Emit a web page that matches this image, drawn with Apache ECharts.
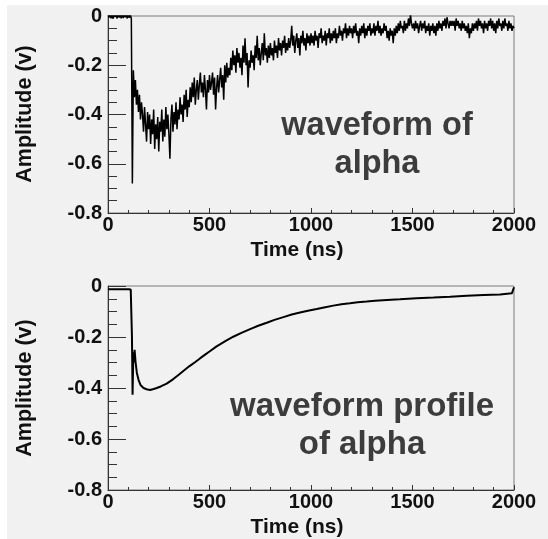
<!DOCTYPE html>
<html>
<head>
<meta charset="utf-8">
<script src="https://cdn.jsdelivr.net/npm/echarts@6/dist/echarts.min.js"></script>
<style>
  html, body { margin: 0; padding: 0; background: #ffffff; }
  #wrap { position: relative; width: 548px; height: 539px; overflow: hidden; }
  #panel { position: absolute; left: 7px; top: 5px; right: 0; bottom: 0; background: #f1f1f1; }
  #chart { position: absolute; left: 0; top: 0; width: 548px; height: 539px; }
</style>
</head>
<body>
<div id="wrap"><div id="panel"></div><div id="chart"></div></div>
<script>
// Single alpha-particle waveform, one sample every 5 ns from 0 to 2000 ns (volts)
const waveStepNs = 5;
const waveAmp = [
  // 0 - 95 ns
  0.008, -0.006, 0.010, -0.009, 0.004, -0.011, 0.009, -0.004, 0.007, -0.010, 0.011, -0.006, 0.003, -0.009, 0.008, -0.008, 0.010, -0.005, 0.006, -0.010,
  // 100 - 195 ns
  0.009, -0.007, 0.006, -0.011, -0.68, -0.22, -0.33, -0.26, -0.36, -0.30, -0.39, -0.32, -0.42, -0.35, -0.40, -0.47, -0.37, -0.44, -0.51, -0.39,
  // 200 - 295 ns
  -0.46, -0.40, -0.52, -0.42, -0.48, -0.38, -0.54, -0.44, -0.50, -0.41, -0.55, -0.43, -0.47, -0.38, -0.51, -0.42, -0.49, -0.37, -0.46, -0.40,
  // 300 - 395 ns
  -0.48, -0.58, -0.42, -0.36, -0.47, -0.39, -0.44, -0.35, -0.46, -0.38, -0.42, -0.33, -0.40, -0.36, -0.43, -0.32, -0.38, -0.30, -0.41, -0.34,
  // 400 - 495 ns
  -0.37, -0.29, -0.35, -0.27, -0.33, -0.25, -0.36, -0.30, -0.26, -0.34, -0.28, -0.23, -0.31, -0.27, -0.33, -0.24, -0.30, -0.38, -0.26, -0.31,
  // 500 - 595 ns
  -0.24, -0.30, -0.27, -0.23, -0.32, -0.25, -0.38, -0.29, -0.24, -0.31, -0.26, -0.21, -0.29, -0.24, -0.34, -0.20, -0.27, -0.19, -0.25, -0.21,
  // 600 - 695 ns
  -0.24, -0.17, -0.22, -0.14, -0.20, -0.16, -0.23, -0.13, -0.19, -0.15, -0.21, -0.17, -0.24, -0.12, -0.19, -0.09, -0.20, -0.15, -0.29, -0.18,
  // 700 - 795 ns
  -0.21, -0.14, -0.19, -0.16, -0.22, -0.12, -0.17, -0.08, -0.18, -0.13, -0.20, -0.15, -0.11, -0.18, -0.07, -0.16, -0.13, -0.19, -0.12, -0.17,
  // 800 - 895 ns
  -0.11, -0.16, -0.13, -0.18, -0.10, -0.15, -0.12, -0.17, -0.09, -0.14, -0.11, -0.16, -0.10, -0.13, -0.08, -0.15, -0.11, -0.14, -0.09, -0.13,
  // 900 - 995 ns
  -0.10, -0.04, -0.12, -0.08, -0.15, -0.10, -0.07, -0.13, -0.09, -0.16, -0.08, -0.11, -0.06, -0.12, -0.09, -0.14, -0.07, -0.11, -0.08, -0.12,
  // 1000 - 1095 ns
  -0.07, -0.11, -0.08, -0.12, -0.06, -0.10, -0.08, -0.13, -0.07, -0.09, -0.05, -0.11, -0.08, -0.10, -0.06, -0.12, -0.07, -0.09, -0.05, -0.11,
  // 1100 - 1195 ns
  -0.07, -0.10, -0.06, -0.09, -0.05, -0.11, -0.07, -0.09, -0.04, -0.08, -0.06, -0.10, -0.05, -0.07, -0.03, -0.09, -0.05, -0.08, -0.04, -0.07,
  // 1200 - 1295 ns
  -0.05, -0.09, -0.04, -0.07, -0.03, -0.08, -0.06, -0.11, -0.05, -0.08, -0.04, -0.07, -0.03, -0.09, -0.05, -0.08, -0.04, -0.06, -0.03, -0.08,
  // 1300 - 1395 ns
  -0.05, -0.07, -0.03, -0.08, -0.04, -0.06, -0.02, -0.07, -0.04, -0.08, -0.05, -0.07, -0.03, -0.06, -0.04, -0.09, -0.06, -0.10, -0.05, -0.08,
  // 1400 - 1495 ns
  -0.06, -0.11, -0.05, -0.08, -0.04, -0.07, -0.03, -0.06, -0.02, -0.05, -0.04, -0.07, -0.02, -0.06, -0.03, -0.05, -0.01, -0.04, 0.005, -0.03,
  // 1500 - 1595 ns
  -0.05, -0.03, -0.06, -0.02, -0.05, -0.03, -0.07, -0.04, -0.02, -0.06, -0.03, -0.05, -0.02, -0.07, -0.04, -0.06, -0.03, -0.08, -0.04, -0.06,
  // 1600 - 1695 ns
  -0.03, -0.07, -0.04, -0.08, -0.03, -0.06, -0.02, -0.05, -0.03, -0.06, -0.02, -0.04, -0.01, -0.05, -0.005, -0.03, -0.05, -0.02, -0.04, -0.02,
  // 1700 - 1795 ns
  -0.04, -0.02, -0.06, -0.01, -0.04, -0.02, -0.05, -0.03, -0.06, -0.02, -0.05, -0.03, -0.06, -0.04, -0.07, -0.03, -0.09, -0.05, -0.07, -0.03,
  // 1800 - 1895 ns
  -0.06, -0.03, -0.05, -0.02, -0.06, -0.01, -0.04, -0.02, -0.05, -0.03, -0.07, -0.02, -0.05, -0.03, -0.06, -0.02, -0.04, -0.01, -0.05, -0.02,
  // 1900 - 1995 ns
  -0.06, -0.03, -0.07, -0.02, -0.05, -0.01, -0.04, -0.03, -0.06, -0.02, -0.05, -0.01, -0.04, -0.03, -0.06, -0.02, -0.05, -0.03, -0.06, -0.04,
  // 2000 ns
  -0.05
];

// Averaged waveform profile (ns, volts)
const profileTime = [
  0, 100, 112, 118, 121, 125, 128, 131, 136, 142, 150, 160, 175, 190, 207,
  225, 240, 260, 289, 320, 350, 371, 400, 430, 453, 480, 500, 535, 580, 617,
  660, 700, 740, 782, 820, 864, 905, 946, 985, 1028, 1070, 1110, 1150, 1192, 1230,
  1274, 1315, 1355, 1395, 1438, 1520, 1603, 1685, 1768, 1850, 1931, 1990, 2000
];
const profileAmp = [
  -0.013, -0.013, -0.014, -0.20, -0.426, -0.26, -0.30, -0.25, -0.30, -0.34, -0.367, -0.388, -0.40, -0.405, -0.408,
  -0.404, -0.400, -0.394, -0.383, -0.366, -0.347, -0.333, -0.315, -0.298, -0.284, -0.268, -0.257, -0.237, -0.215, -0.199,
  -0.183, -0.169, -0.156, -0.144, -0.133, -0.122, -0.112, -0.104, -0.097, -0.090, -0.083, -0.077, -0.072, -0.068, -0.064,
  -0.061, -0.058, -0.056, -0.054, -0.052, -0.048, -0.045, -0.042, -0.038, -0.035, -0.033, -0.028, -0.005
];

// Axis ranges and tick spacing
const timeRange = [0, 2000];
const timeStep = 500;
const ampRange = [-0.8, 0];
const ampStep = 0.2;

const panelTitles = [["waveform of", "alpha"], ["waveform profile", "of alpha"]];
const xTitle = "Time (ns)";
const yTitle = "Amplitude (v)";

const FONT = '"Liberation Sans", Arial, Helvetica, sans-serif';
const AXIS_COLOR = '#333';

const grids = [
  { left: 108, top: 16, width: 406, height: 197 },
  { left: 108, top: 286, width: 406, height: 204 }
];

function xAxisFor(i) {
  return {
    gridIndex: i, type: 'value', min: timeRange[0], max: timeRange[1], interval: timeStep,
    axisLine: { show: true, onZero: false, lineStyle: { color: AXIS_COLOR, width: 1 } },
    axisTick: { show: true, inside: true, length: 5, lineStyle: { color: AXIS_COLOR } },
    minorTick: { show: true, splitNumber: 5, length: 3, lineStyle: { color: AXIS_COLOR } },
    splitLine: { show: false }, minorSplitLine: { show: false },
    axisLabel: { margin: 2, fontSize: 20, fontWeight: 'bold', color: '#111', fontFamily: FONT,
                 showMinLabel: true, showMaxLabel: true, hideOverlap: false,
                 formatter: v => String(Math.round(v)) }
  };
}
function yAxisFor(i) {
  return {
    gridIndex: i, type: 'value', min: ampRange[0], max: ampRange[1], interval: ampStep,
    axisLine: { show: true, onZero: false, lineStyle: { color: AXIS_COLOR, width: 1 } },
    axisTick: { show: true, inside: true, length: 18, lineStyle: { color: AXIS_COLOR } },
    minorTick: { show: true, splitNumber: 4, length: 9, lineStyle: { color: AXIS_COLOR } },
    splitLine: { show: false }, minorSplitLine: { show: false },
    axisLabel: { margin: 6, fontSize: 20, fontWeight: 'bold', color: '#111', fontFamily: FONT,
                 padding: [4, 0, 0, 0], showMinLabel: true, showMaxLabel: true, hideOverlap: false,
                 formatter: v => (Math.abs(v) < 1e-9 ? '0' : String(Math.round(v * 10) / 10)) }
  };
}

const waveData = waveAmp.map((v, i) => [i * waveStepNs, v]);
const profileData = profileTime.map((t, i) => [t, profileAmp[i]]);

function label(text, x, y, size, color, rot) {
  return {
    type: 'text', x: x, y: y, rotation: rot || 0, silent: true, z: 10,
    style: { text: text, font: 'bold ' + size + 'px ' + FONT, fill: color,
             align: 'center', verticalAlign: 'middle' }
  };
}

const graphics = [
  label(yTitle, 25, 114, 21.5, '#111', Math.PI / 2),
  label(yTitle, 25, 388, 21.5, '#111', Math.PI / 2),
  label(xTitle, 297, 250, 21, '#111'),
  label(xTitle, 297, 527, 21, '#111'),
  label(panelTitles[0][0], 377, 126, 32.5, '#3c3c3c'),
  label(panelTitles[0][1], 377, 164, 32.5, '#3c3c3c'),
  label(panelTitles[1][0], 362, 407, 33, '#3c3c3c'),
  label(panelTitles[1][1], 362, 445, 33, '#3c3c3c')
];

const chart = echarts.init(document.getElementById('chart'), null, { renderer: 'canvas' });
chart.setOption({
  backgroundColor: 'transparent',
  animation: false,
  grid: grids.map(g => Object.assign({ show: true, borderColor: '#7a7a7a', borderWidth: 1,
                                       backgroundColor: 'transparent', containLabel: false }, g)),
  xAxis: [xAxisFor(0), xAxisFor(1)],
  yAxis: [yAxisFor(0), yAxisFor(1)],
  series: [
    { type: 'line', xAxisIndex: 0, yAxisIndex: 0, data: waveData, showSymbol: false,
      lineStyle: { color: '#000', width: 1.5 }, clip: true },
    { type: 'line', xAxisIndex: 1, yAxisIndex: 1, data: profileData, showSymbol: false,
      lineStyle: { color: '#000', width: 2 }, clip: true }
  ],
  graphic: graphics
});
</script>
</body>
</html>
